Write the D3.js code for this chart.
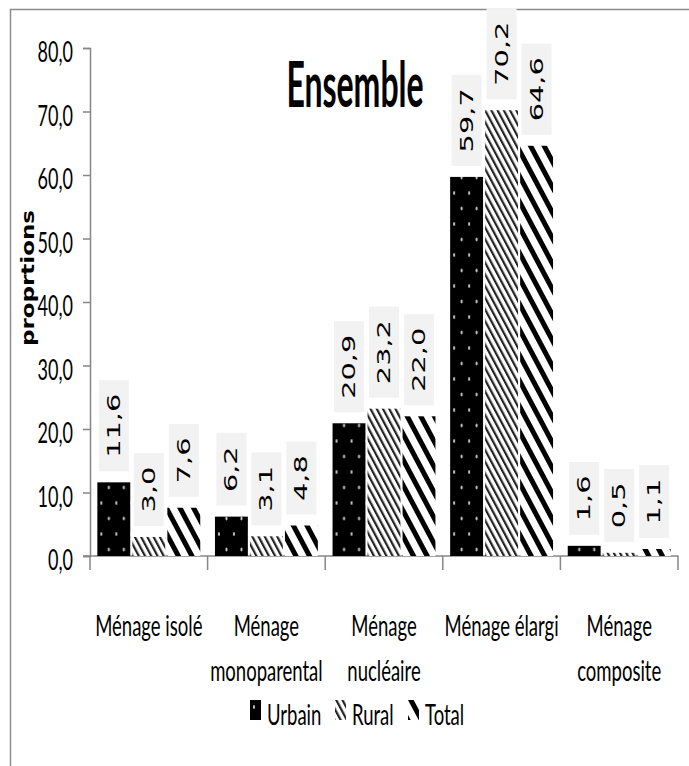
<!DOCTYPE html>
<html>
<head>
<meta charset="utf-8">
<script src="https://cdn.jsdelivr.net/npm/d3@7"></script>
<style>
  body { margin: 0; background: #fff; }
  svg { display: block; }
</style>
</head>
<body>
<div id="chart"></div>
<script>
// categories (line breaks as in the original axis)
const categories = ["Ménage isolé", "Ménage\nmonoparental", "Ménage\nnucléaire", "Ménage élargi", "Ménage\ncomposite"];
const seriesNames = ["Urbain", "Rural", "Total"];
const urbain = [11.6, 6.2, 20.9, 59.7, 1.6];
const rural = [3.0, 3.1, 23.2, 70.2, 0.5];
const total = [7.6, 4.8, 22.0, 64.6, 1.1];
const yTicks = [0, 10, 20, 30, 40, 50, 60, 70, 80];
const title = "Ensemble";
const yTitle = "proprtions";

const values = [urbain, rural, total];
const width = 689, height = 766;
const stretch = 1.6;   // the original picture is tall-stretched
const fmt = v => d3.format(".1f")(v).replace(".", ",");

const svg = d3.select("#chart")
  .append("svg")
  .attr("width", width)
  .attr("height", height);

svg.append("rect").attr("width", width).attr("height", height).attr("fill", "#fff");

// patterns
const defs = svg.append("defs");
const pu = defs.append("pattern").attr("id", "p-urbain")
  .attr("patternUnits", "userSpaceOnUse").attr("width", 15).attr("height", 31);
pu.append("rect").attr("width", 15).attr("height", 31).attr("fill", "#000");
pu.append("ellipse").attr("cx", 4).attr("cy", 7).attr("rx", 1).attr("ry", 2).attr("fill", "#ccc");
pu.append("ellipse").attr("cx", 11.5).attr("cy", 22.5).attr("rx", 1).attr("ry", 2).attr("fill", "#ccc");

const pr = defs.append("pattern").attr("id", "p-rural")
  .attr("patternUnits", "userSpaceOnUse").attr("width", 5.5).attr("height", 6)
  .attr("patternTransform", "rotate(-28)");
pr.append("rect").attr("width", 5.5).attr("height", 6).attr("fill", "#fff");
pr.append("rect").attr("width", 2.2).attr("height", 6).attr("fill", "#222");

const pt = defs.append("pattern").attr("id", "p-total")
  .attr("patternUnits", "userSpaceOnUse").attr("width", 12).attr("height", 12)
  .attr("patternTransform", "rotate(-28)");
pt.append("rect").attr("width", 12).attr("height", 12).attr("fill", "#fff");
pt.append("rect").attr("width", 5).attr("height", 12).attr("fill", "#000");

const fills = ["url(#p-urbain)", "url(#p-rural)", "url(#p-total)"];

// outer chart border (runs off the picture on the right and bottom)
svg.append("path")
  .attr("d", `M10.5,${height + 5}V9.5H${width + 5}`)
  .attr("fill", "none").attr("stroke", "#8c8c8c").attr("stroke-width", 1.5);

// scales
const x0 = d3.scaleBand().domain(d3.range(categories.length))
  .range([90, 678]).paddingInner(0.125).paddingOuter(0.0625);
const x1 = d3.scaleBand().domain(d3.range(seriesNames.length))
  .range([0, x0.bandwidth()]).paddingInner(0.06);
const y = d3.scaleLinear().domain([0, 80]).range([556, 48]);

// y axis
const yAxis = svg.append("g").attr("transform", "translate(90,0)")
  .call(d3.axisLeft(y).tickValues(yTicks).tickSize(7).tickFormat(""));
yAxis.select(".domain").attr("stroke", "#868686").attr("stroke-width", 1.5);
yAxis.selectAll(".tick line").attr("stroke", "#868686").attr("stroke-width", 1.5);

svg.append("g").selectAll("text").data(yTicks).join("text")
  .attr("transform", d => `translate(73,${y(d) + 14}) scale(1,${stretch})`)
  .attr("text-anchor", "end")
  .attr("font-family", "Lato, sans-serif").attr("font-size", 18)
  .attr("fill", "#000")
  .text(fmt);

// x axis
const xEdges = d3.range(categories.length + 1).map(i => 90 + i * x0.step());
svg.append("line").attr("x1", 83).attr("x2", 678.5).attr("y1", 556).attr("y2", 556)
  .attr("stroke", "#868686").attr("stroke-width", 1.5);
svg.append("g").selectAll("line").data(xEdges).join("line")
  .attr("x1", d => d).attr("x2", d => d).attr("y1", 556).attr("y2", 570)
  .attr("stroke", "#868686").attr("stroke-width", 1.5);

const catLabels = svg.append("g").selectAll("g").data(categories).join("g");
catLabels.each(function (c, i) {
  c.split("\n").forEach((line, k) => {
    d3.select(this).append("text")
      .attr("transform", `translate(${x0(i) + x0.bandwidth() / 2},${636 + k * 45}) scale(1,${stretch})`)
      .attr("text-anchor", "middle")
      .attr("font-family", "Lato, sans-serif").attr("font-size", 18.5)
      .attr("fill", "#000")
      .text(line);
  });
});

// bars
const groups = svg.append("g").selectAll("g").data(categories).join("g")
  .attr("transform", (d, i) => `translate(${x0(i)},0)`);

groups.selectAll("rect")
  .data((d, i) => values.map((s, j) => ({ j, v: s[i] })))
  .join("rect")
  .attr("x", d => x1(d.j))
  .attr("width", x1.bandwidth())
  .attr("y", d => y(d.v))
  .attr("height", d => y(0) - y(d.v))
  .attr("fill", d => fills[d.j]);

// value labels on grey boxes
groups.each(function (c, i) {
  values.forEach((s, j) => {
    const cx = x1(j) + x1.bandwidth() / 2;
    const g = d3.select(this).append("g");
    const box = g.append("rect").attr("fill", "#f2f2f2");
    const t = g.append("text")
      .attr("text-anchor", "middle")
      .attr("dominant-baseline", "central")
      .attr("font-family", "DejaVu Sans, sans-serif").attr("font-size", 18)
      .attr("fill", "#000")
      .text(fmt(s[i]));
    const len = t.node().getComputedTextLength() * stretch;
    const bh = len + 27;
    const cy = y(s[i]) - 11 - bh / 2;
    box.attr("x", cx - 15).attr("width", 30).attr("y", cy - bh / 2).attr("height", bh);
    t.attr("transform", `translate(${cx},${cy}) scale(1,${stretch}) rotate(-90)`);
  });
});

// titles
svg.append("text")
  .attr("transform", `translate(355,107) scale(1,1.95)`)
  .attr("text-anchor", "middle")
  .attr("font-family", "Lato, sans-serif").attr("font-weight", "bold").attr("font-size", 32)
  .text(title);

svg.append("text")
  .attr("transform", `translate(34,278) scale(1,1.35) rotate(-90)`)
  .attr("text-anchor", "middle")
  .attr("font-family", "DejaVu Sans, sans-serif").attr("font-weight", "bold").attr("font-size", 17)
  .text(yTitle);

// legend
const legendX = [250, 335, 408];
const legend = svg.append("g").selectAll("g").data(seriesNames).join("g")
  .attr("transform", (d, i) => `translate(${legendX[i]},700)`);
legend.append("rect").attr("width", 11).attr("height", 20).attr("fill", (d, i) => fills[i]);
legend.append("text")
  .attr("transform", `translate(17,25) scale(1,${stretch})`)
  .attr("font-family", "Lato, sans-serif").attr("font-size", 18.5)
  .text(d => d);
</script>
</body>
</html>
